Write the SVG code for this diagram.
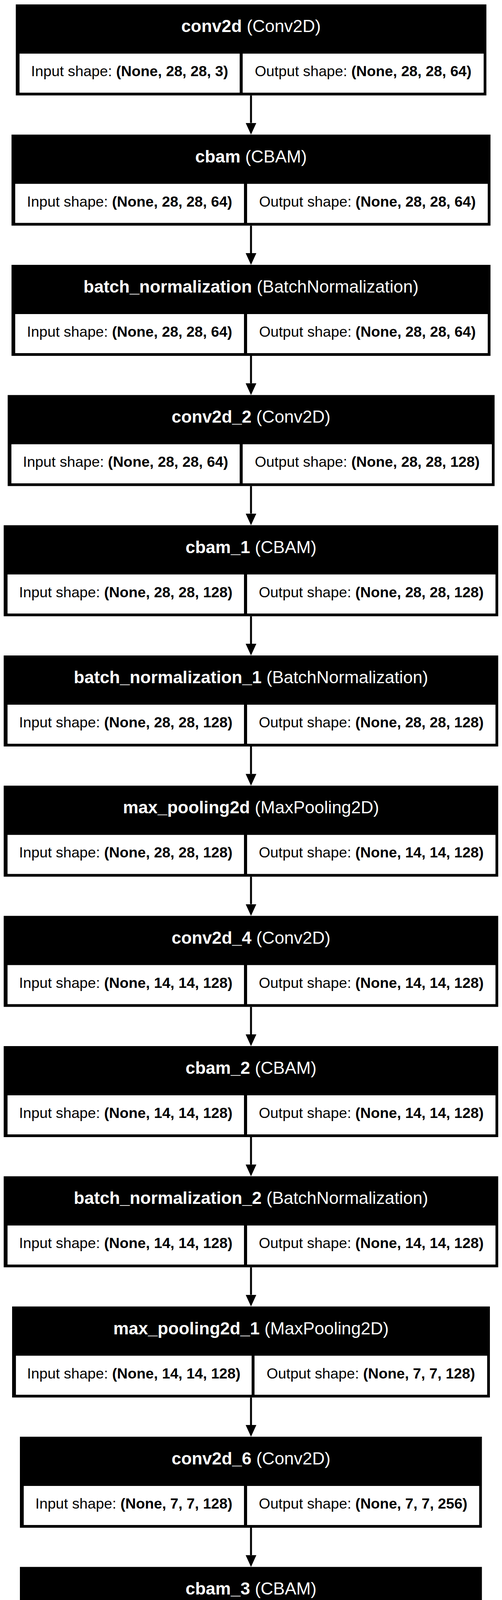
<svg xmlns="http://www.w3.org/2000/svg" width="1286" height="7589" viewBox="0 0 1286 7589">
<defs>
<style>
.box{fill:#000}
.cell{fill:#fff}
text{font-family:"Liberation Sans",Arial,sans-serif;text-anchor:middle}
.title{font-size:44.4px;fill:#fff}
.row{font-size:37.7px;fill:#000}
.b{font-weight:bold}
.edge{stroke:#000;stroke-width:5;fill:none}
</style>
<marker id="ah" markerUnits="userSpaceOnUse" viewBox="0 0 30 27.4" markerWidth="30" markerHeight="27.4" refX="0" refY="13.7" orient="auto">
<path d="M0,0 L30,13.7 L0,27.4 Z" fill="#000"/>
</marker>
</defs>
<rect width="1286" height="7589" fill="#fff"/>

<g id="edges">
<line class="edge" x1="643" y1="244.3" x2="643" y2="314.6" marker-end="url(#ah)"/>
<line class="edge" x1="643" y1="577.6" x2="643" y2="648" marker-end="url(#ah)"/>
<line class="edge" x1="643" y1="911" x2="643" y2="981.3" marker-end="url(#ah)"/>
<line class="edge" x1="643" y1="1244.3" x2="643" y2="1314.6" marker-end="url(#ah)"/>
<line class="edge" x1="643" y1="1577.6" x2="643" y2="1648" marker-end="url(#ah)"/>
<line class="edge" x1="643" y1="1911" x2="643" y2="1981.3" marker-end="url(#ah)"/>
<line class="edge" x1="643" y1="2244.3" x2="643" y2="2314.6" marker-end="url(#ah)"/>
<line class="edge" x1="643" y1="2577.6" x2="643" y2="2648" marker-end="url(#ah)"/>
<line class="edge" x1="643" y1="2911" x2="643" y2="2981.3" marker-end="url(#ah)"/>
<line class="edge" x1="643" y1="3244.3" x2="643" y2="3314.6" marker-end="url(#ah)"/>
<line class="edge" x1="643" y1="3577.6" x2="643" y2="3648" marker-end="url(#ah)"/>
<line class="edge" x1="643" y1="3911" x2="643" y2="3981.3" marker-end="url(#ah)"/>
<line class="edge" x1="643" y1="4244.3" x2="643" y2="4314.6" marker-end="url(#ah)"/>
<line class="edge" x1="643" y1="4577.6" x2="643" y2="4648" marker-end="url(#ah)"/>
<line class="edge" x1="643" y1="4911" x2="643" y2="4981.3" marker-end="url(#ah)"/>
<line class="edge" x1="643" y1="5244.3" x2="643" y2="5314.6" marker-end="url(#ah)"/>
<line class="edge" x1="643" y1="5577.6" x2="643" y2="5648" marker-end="url(#ah)"/>
<line class="edge" x1="643" y1="5911" x2="643" y2="5981.3" marker-end="url(#ah)"/>
<line class="edge" x1="643" y1="6244.3" x2="643" y2="6314.6" marker-end="url(#ah)"/>
<line class="edge" x1="643" y1="6577.6" x2="643" y2="6648" marker-end="url(#ah)"/>
<line class="edge" x1="643" y1="6911" x2="643" y2="6981.3" marker-end="url(#ah)"/>
<line class="edge" x1="643" y1="7244.3" x2="643" y2="7314.6" marker-end="url(#ah)"/>
</g>

<g id="conv2d" transform="translate(0,11.3)">
<rect class="box" x="40.5" y="0" width="1205.5" height="233"/>
<rect class="cell" x="50" y="126" width="564" height="100"/>
<rect class="cell" x="621.7" y="126" width="617.3" height="100"/>
<text class="title" x="643" y="71"><tspan class="b">conv2d</tspan> (Conv2D)</text>
<text class="row" x="332" y="184">Input shape: <tspan class="b">(None, 28, 28, 3)</tspan></text>
<text class="row" x="930.3" y="184">Output shape: <tspan class="b">(None, 28, 28, 64)</tspan></text>
</g>

<g id="cbam" transform="translate(0,344.6)">
<rect class="box" x="29.5" y="0" width="1227" height="233"/>
<rect class="cell" x="39" y="126" width="586" height="100"/>
<rect class="cell" x="633" y="126" width="616.5" height="100"/>
<text class="title" x="643" y="71"><tspan class="b">cbam</tspan> (CBAM)</text>
<text class="row" x="332" y="184">Input shape: <tspan class="b">(None, 28, 28, 64)</tspan></text>
<text class="row" x="941.2" y="184">Output shape: <tspan class="b">(None, 28, 28, 64)</tspan></text>
</g>

<g id="batch_normalization" transform="translate(0,678)">
<rect class="box" x="29.5" y="0" width="1227" height="233"/>
<rect class="cell" x="39" y="126" width="586" height="100"/>
<rect class="cell" x="633" y="126" width="616.5" height="100"/>
<text class="title" x="643" y="71"><tspan class="b">batch_normalization</tspan> (BatchNormalization)</text>
<text class="row" x="332" y="184">Input shape: <tspan class="b">(None, 28, 28, 64)</tspan></text>
<text class="row" x="941.2" y="184">Output shape: <tspan class="b">(None, 28, 28, 64)</tspan></text>
</g>

<g id="conv2d_2" transform="translate(0,1011.3)">
<rect class="box" x="19.7" y="0" width="1247.3" height="233"/>
<rect class="cell" x="29.2" y="126" width="584.8" height="100"/>
<rect class="cell" x="621.7" y="126" width="638.3" height="100"/>
<text class="title" x="643" y="71"><tspan class="b">conv2d_2</tspan> (Conv2D)</text>
<text class="row" x="321.6" y="184">Input shape: <tspan class="b">(None, 28, 28, 64)</tspan></text>
<text class="row" x="940.8" y="184">Output shape: <tspan class="b">(None, 28, 28, 128)</tspan></text>
</g>

<g id="cbam_1" transform="translate(0,1344.6)">
<rect class="box" x="9.5" y="0" width="1266.8" height="233"/>
<rect class="cell" x="19.3" y="126" width="605.7" height="100"/>
<rect class="cell" x="633" y="126" width="636.3" height="100"/>
<text class="title" x="643" y="71"><tspan class="b">cbam_1</tspan> (CBAM)</text>
<text class="row" x="322.2" y="184">Input shape: <tspan class="b">(None, 28, 28, 128)</tspan></text>
<text class="row" x="951" y="184">Output shape: <tspan class="b">(None, 28, 28, 128)</tspan></text>
</g>

<g id="batch_normalization_1" transform="translate(0,1678)">
<rect class="box" x="9.5" y="0" width="1266.8" height="233"/>
<rect class="cell" x="19.3" y="126" width="605.7" height="100"/>
<rect class="cell" x="633" y="126" width="636.3" height="100"/>
<text class="title" x="643" y="71"><tspan class="b">batch_normalization_1</tspan> (BatchNormalization)</text>
<text class="row" x="322.2" y="184">Input shape: <tspan class="b">(None, 28, 28, 128)</tspan></text>
<text class="row" x="951" y="184">Output shape: <tspan class="b">(None, 28, 28, 128)</tspan></text>
</g>

<g id="max_pooling2d" transform="translate(0,2011.3)">
<rect class="box" x="9.5" y="0" width="1266.8" height="233"/>
<rect class="cell" x="19.3" y="126" width="605.7" height="100"/>
<rect class="cell" x="633" y="126" width="636.3" height="100"/>
<text class="title" x="643" y="71"><tspan class="b">max_pooling2d</tspan> (MaxPooling2D)</text>
<text class="row" x="322.2" y="184">Input shape: <tspan class="b">(None, 28, 28, 128)</tspan></text>
<text class="row" x="951" y="184">Output shape: <tspan class="b">(None, 14, 14, 128)</tspan></text>
</g>

<g id="conv2d_4" transform="translate(0,2344.6)">
<rect class="box" x="9.5" y="0" width="1266.8" height="233"/>
<rect class="cell" x="19.3" y="126" width="605.7" height="100"/>
<rect class="cell" x="633" y="126" width="636.3" height="100"/>
<text class="title" x="643" y="71"><tspan class="b">conv2d_4</tspan> (Conv2D)</text>
<text class="row" x="322.2" y="184">Input shape: <tspan class="b">(None, 14, 14, 128)</tspan></text>
<text class="row" x="951" y="184">Output shape: <tspan class="b">(None, 14, 14, 128)</tspan></text>
</g>

<g id="cbam_2" transform="translate(0,2678)">
<rect class="box" x="9.5" y="0" width="1266.8" height="233"/>
<rect class="cell" x="19.3" y="126" width="605.7" height="100"/>
<rect class="cell" x="633" y="126" width="636.3" height="100"/>
<text class="title" x="643" y="71"><tspan class="b">cbam_2</tspan> (CBAM)</text>
<text class="row" x="322.2" y="184">Input shape: <tspan class="b">(None, 14, 14, 128)</tspan></text>
<text class="row" x="951" y="184">Output shape: <tspan class="b">(None, 14, 14, 128)</tspan></text>
</g>

<g id="batch_normalization_2" transform="translate(0,3011.3)">
<rect class="box" x="9.5" y="0" width="1266.8" height="233"/>
<rect class="cell" x="19.3" y="126" width="605.7" height="100"/>
<rect class="cell" x="633" y="126" width="636.3" height="100"/>
<text class="title" x="643" y="71"><tspan class="b">batch_normalization_2</tspan> (BatchNormalization)</text>
<text class="row" x="322.2" y="184">Input shape: <tspan class="b">(None, 14, 14, 128)</tspan></text>
<text class="row" x="951" y="184">Output shape: <tspan class="b">(None, 14, 14, 128)</tspan></text>
</g>

<g id="max_pooling2d_1" transform="translate(0,3344.6)">
<rect class="box" x="31" y="0" width="1224" height="233"/>
<rect class="cell" x="40.8" y="126" width="603.8" height="100"/>
<rect class="cell" x="652" y="126" width="596" height="100"/>
<text class="title" x="643" y="71"><tspan class="b">max_pooling2d_1</tspan> (MaxPooling2D)</text>
<text class="row" x="342.7" y="184">Input shape: <tspan class="b">(None, 14, 14, 128)</tspan></text>
<text class="row" x="950" y="184">Output shape: <tspan class="b">(None, 7, 7, 128)</tspan></text>
</g>

<g id="conv2d_6" transform="translate(0,3678)">
<rect class="box" x="51" y="0" width="1183.5" height="233"/>
<rect class="cell" x="60.8" y="126" width="564.2" height="100"/>
<rect class="cell" x="633" y="126" width="594.5" height="100"/>
<text class="title" x="643" y="71"><tspan class="b">conv2d_6</tspan> (Conv2D)</text>
<text class="row" x="342.9" y="184">Input shape: <tspan class="b">(None, 7, 7, 128)</tspan></text>
<text class="row" x="930.2" y="184">Output shape: <tspan class="b">(None, 7, 7, 256)</tspan></text>
</g>

<g id="cbam_3" transform="translate(0,4011.3)">
<rect class="box" x="51" y="0" width="1183.5" height="233"/>
<rect class="cell" x="60.8" y="126" width="564.2" height="100"/>
<rect class="cell" x="633" y="126" width="594.5" height="100"/>
<text class="title" x="643" y="71"><tspan class="b">cbam_3</tspan> (CBAM)</text>
<text class="row" x="342.9" y="184">Input shape: <tspan class="b">(None, 7, 7, 256)</tspan></text>
<text class="row" x="930.2" y="184">Output shape: <tspan class="b">(None, 7, 7, 256)</tspan></text>
</g>

<g id="batch_normalization_3" transform="translate(0,4344.6)">
<rect class="box" x="51" y="0" width="1183.5" height="233"/>
<rect class="cell" x="60.8" y="126" width="564.2" height="100"/>
<rect class="cell" x="633" y="126" width="594.5" height="100"/>
<text class="title" x="643" y="71"><tspan class="b">batch_normalization_3</tspan> (BatchNormalization)</text>
<text class="row" x="342.9" y="184">Input shape: <tspan class="b">(None, 7, 7, 256)</tspan></text>
<text class="row" x="930.2" y="184">Output shape: <tspan class="b">(None, 7, 7, 256)</tspan></text>
</g>

<g id="max_pooling2d_2" transform="translate(0,4678)">
<rect class="box" x="51" y="0" width="1183.5" height="233"/>
<rect class="cell" x="60.8" y="126" width="564.2" height="100"/>
<rect class="cell" x="633" y="126" width="594.5" height="100"/>
<text class="title" x="643" y="71"><tspan class="b">max_pooling2d_2</tspan> (MaxPooling2D)</text>
<text class="row" x="342.9" y="184">Input shape: <tspan class="b">(None, 7, 7, 256)</tspan></text>
<text class="row" x="930.2" y="184">Output shape: <tspan class="b">(None, 3, 3, 256)</tspan></text>
</g>

<g id="flatten" transform="translate(0,5011.3)">
<rect class="box" x="82" y="0" width="1121" height="233"/>
<rect class="cell" x="91.8" y="126" width="564.2" height="100"/>
<rect class="cell" x="662.7" y="126" width="533.3" height="100"/>
<text class="title" x="643" y="71"><tspan class="b">flatten</tspan> (Flatten)</text>
<text class="row" x="373.9" y="184">Input shape: <tspan class="b">(None, 3, 3, 256)</tspan></text>
<text class="row" x="929.4" y="184">Output shape: <tspan class="b">(None, 2304)</tspan></text>
</g>

<g id="dense_8" transform="translate(0,5344.6)">
<rect class="box" x="113" y="0" width="1060" height="233"/>
<rect class="cell" x="122.8" y="126" width="502.2" height="100"/>
<rect class="cell" x="633" y="126" width="533" height="100"/>
<text class="title" x="643" y="71"><tspan class="b">dense_8</tspan> (Dense)</text>
<text class="row" x="373.9" y="184">Input shape: <tspan class="b">(None, 2304)</tspan></text>
<text class="row" x="899.5" y="184">Output shape: <tspan class="b">(None, 1024)</tspan></text>
</g>

<g id="batch_normalization_4" transform="translate(0,5678)">
<rect class="box" x="113" y="0" width="1060" height="233"/>
<rect class="cell" x="122.8" y="126" width="502.2" height="100"/>
<rect class="cell" x="633" y="126" width="533" height="100"/>
<text class="title" x="643" y="71"><tspan class="b">batch_normalization_4</tspan> (BatchNormalization)</text>
<text class="row" x="373.9" y="184">Input shape: <tspan class="b">(None, 1024)</tspan></text>
<text class="row" x="899.5" y="184">Output shape: <tspan class="b">(None, 1024)</tspan></text>
</g>

<g id="dropout" transform="translate(0,6011.3)">
<rect class="box" x="113" y="0" width="1060" height="233"/>
<rect class="cell" x="122.8" y="126" width="502.2" height="100"/>
<rect class="cell" x="633" y="126" width="533" height="100"/>
<text class="title" x="643" y="71"><tspan class="b">dropout</tspan> (Dropout)</text>
<text class="row" x="373.9" y="184">Input shape: <tspan class="b">(None, 1024)</tspan></text>
<text class="row" x="899.5" y="184">Output shape: <tspan class="b">(None, 1024)</tspan></text>
</g>

<g id="dense_9" transform="translate(0,6344.6)">
<rect class="box" x="123" y="0" width="1039" height="233"/>
<rect class="cell" x="132.8" y="126" width="503.6" height="100"/>
<rect class="cell" x="644" y="126" width="511" height="100"/>
<text class="title" x="643" y="71"><tspan class="b">dense_9</tspan> (Dense)</text>
<text class="row" x="384.6" y="184">Input shape: <tspan class="b">(None, 1024)</tspan></text>
<text class="row" x="899.5" y="184">Output shape: <tspan class="b">(None, 512)</tspan></text>
</g>

<g id="batch_normalization_5" transform="translate(0,6678)">
<rect class="box" x="134.5" y="0" width="1016.2" height="233"/>
<rect class="cell" x="144.3" y="126" width="480.7" height="100"/>
<rect class="cell" x="633" y="126" width="510.7" height="100"/>
<text class="title" x="643" y="71"><tspan class="b">batch_normalization_5</tspan> (BatchNormalization)</text>
<text class="row" x="384.6" y="184">Input shape: <tspan class="b">(None, 512)</tspan></text>
<text class="row" x="888.4" y="184">Output shape: <tspan class="b">(None, 512)</tspan></text>
</g>

<g id="dropout_1" transform="translate(0,7011.3)">
<rect class="box" x="134.5" y="0" width="1016.2" height="233"/>
<rect class="cell" x="144.3" y="126" width="480.7" height="100"/>
<rect class="cell" x="633" y="126" width="510.7" height="100"/>
<text class="title" x="643" y="71"><tspan class="b">dropout_1</tspan> (Dropout)</text>
<text class="row" x="384.6" y="184">Input shape: <tspan class="b">(None, 512)</tspan></text>
<text class="row" x="888.4" y="184">Output shape: <tspan class="b">(None, 512)</tspan></text>
</g>

<g id="dense_10" transform="translate(0,7344.6)">
<rect class="box" x="145" y="0" width="995" height="233"/>
<rect class="cell" x="154.8" y="126" width="479.2" height="100"/>
<rect class="cell" x="641.4" y="126" width="491.6" height="100"/>
<text class="title" x="643" y="71"><tspan class="b">dense_10</tspan> (Dense)</text>
<text class="row" x="394.4" y="184">Input shape: <tspan class="b">(None, 512)</tspan></text>
<text class="row" x="887.2" y="184">Output shape: <tspan class="b">(None, 26)</tspan></text>
</g>
</svg>
